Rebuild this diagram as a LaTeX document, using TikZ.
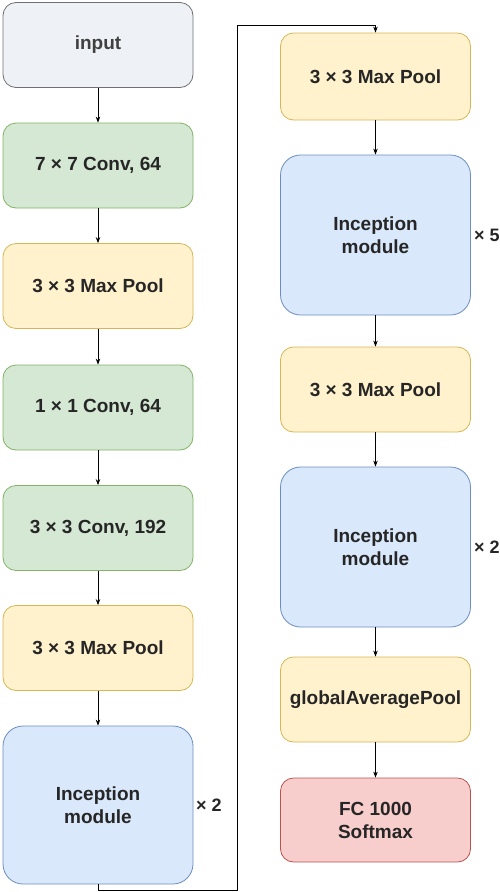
\documentclass[tikz,border=0pt]{standalone}
\usepackage{fontspec}
\setmainfont{Liberation Sans}
\usetikzlibrary{arrows.meta}

\begin{document}
\begin{tikzpicture}[x=1pt,y=-1pt,
  block/.style={rectangle,rounded corners=13pt,line width=0.8pt,minimum width=190pt,
    minimum height=85pt,inner sep=0pt,align=center,font=\bfseries\fontsize{19}{23}\selectfont,text=black!85},
  bigblock/.style={block,rounded corners=20pt,minimum height=158pt},
  grayb/.style={fill=inputfill,draw=inputline,text=black!75},
  greenb/.style={fill=convfill,draw=convline},
  yellowb/.style={fill=poolfill,draw=poolline},
  blueb/.style={fill=incfill,draw=incline},
  redb/.style={fill=fcfill,draw=fcline},
  times/.style={anchor=west,inner sep=0pt,font=\bfseries\fontsize{18}{22}\selectfont,text=black!85},
  conn/.style={line width=0.8pt,-{Stealth[length=6pt,width=4.5pt]}}]
\definecolor{inputfill}{HTML}{EEF1F6}
\definecolor{inputline}{HTML}{707070}
\definecolor{convfill}{HTML}{D5E8D4}
\definecolor{convline}{HTML}{82B366}
\definecolor{poolfill}{HTML}{FFF2CC}
\definecolor{poolline}{HTML}{D6B656}
\definecolor{incfill}{HTML}{DAE8FC}
\definecolor{incline}{HTML}{6C8EBF}
\definecolor{fcfill}{HTML}{F8CECC}
\definecolor{fcline}{HTML}{B85450}
\useasboundingbox (0,0) rectangle (500,892);
% left column
\node [block,grayb] (input) at (98,45) {input};
\node [block,greenb] (conv1) at (98,165.5) {7 × 7 Conv, 64};
\node [block,yellowb] (pool1) at (98,286) {3 × 3 Max Pool};
\node [block,greenb] (conv2) at (98,407.5) {1 × 1 Conv, 64};
\node [block,greenb] (conv3) at (98,528) {3 × 3 Conv, 192};
\node [block,yellowb] (pool2) at (98,648) {3 × 3 Max Pool};
\node [bigblock,blueb] (incA) at (98,805) {Inception\\module};
\node [times] (repA) at (196,805) {× 2};
% right column
\node [block,yellowb,minimum height=87pt] (pool3) at (375.5,76.5) {3 × 3 Max Pool};
\node [bigblock,blueb,minimum height=160pt] (incB) at (375.5,235) {Inception\\module};
\node [times] (repB) at (474,235) {× 5};
\node [block,yellowb] (pool4) at (375.5,389.5) {3 × 3 Max Pool};
\node [bigblock,blueb,minimum height=160pt] (incC) at (375.5,547) {Inception\\module};
\node [times] (repC) at (474,547) {× 2};
\node [block,yellowb] (gap) at (375.5,699.5) {globalAveragePool};
\node [block,redb,minimum height=84pt] (fc) at (375.5,820) {FC 1000\\Softmax};
% connectors
\foreach \a/\b in {input/conv1,conv1/pool1,pool1/conv2,conv2/conv3,conv3/pool2,pool2/incA,
  pool3/incB,incB/pool4,pool4/incC,incC/gap,gap/fc}
  \draw [conn] (\a) -- (\b);
\coordinate (turnlow) at (237,890);
\coordinate (turnhigh) at (237,25);
\draw [conn] (incA.south) |- (turnlow) -- (turnhigh) -| (pool3.north);
\end{tikzpicture}
\end{document}
